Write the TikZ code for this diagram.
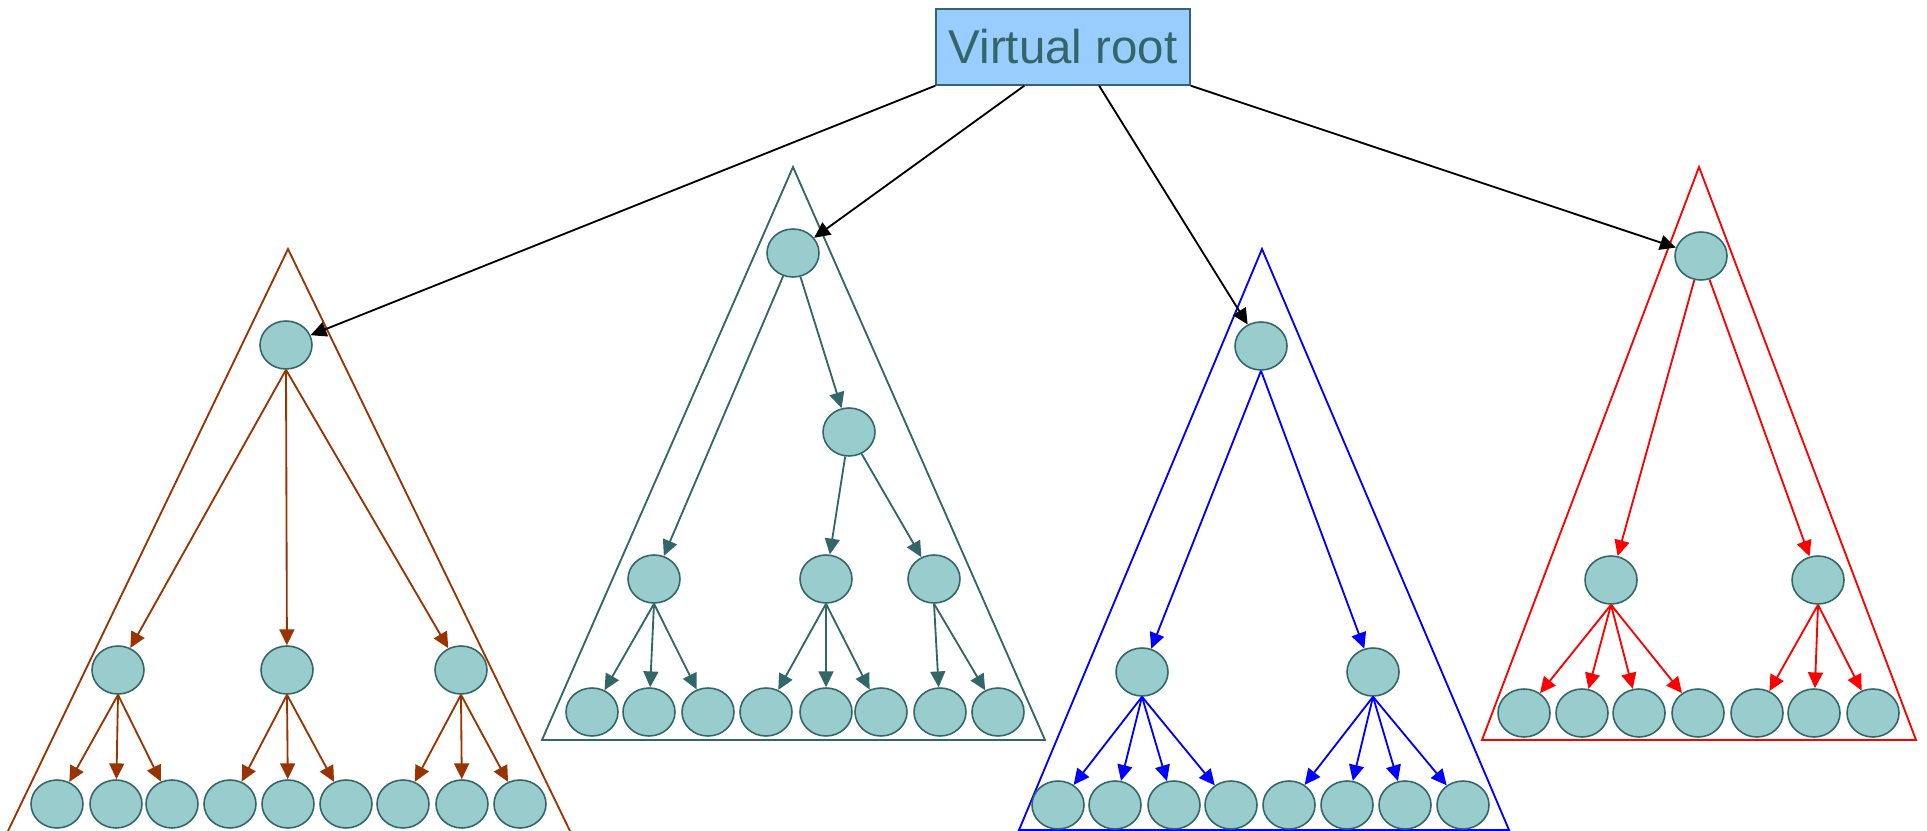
\documentclass[tikz,border=0pt]{standalone}
\usepackage{fontspec}
\newfontfamily\rootfont{Liberation Sans}
\usetikzlibrary{arrows.meta,shapes.geometric}
\definecolor{nodefill}{HTML}{99CCCC}
\definecolor{nodeline}{HTML}{336666}
\definecolor{rootfill}{HTML}{99CCFF}
\definecolor{rust}{HTML}{993300}

\begin{document}
\begin{tikzpicture}[x=0.02cm,y=-0.02cm,
  vert/.style={ellipse,draw=nodeline,fill=nodefill,line width=0.9pt,minimum width=1.04cm,minimum height=0.96cm,inner sep=0pt},
  rootbox/.style={rectangle,draw=nodeline,fill=rootfill,line width=0.8pt,minimum width=5.08cm,minimum height=1.52cm,inner sep=0pt,text=nodeline,font=\rootfont\fontsize{27}{32}\selectfont},
  link/.style={line width=1.05pt,-{Triangle[length=9pt,width=8.5pt]}},
  hull/.style={line width=1.05pt}]
\useasboundingbox (0,0) rectangle (1927,831);
\clip (0,0) rectangle (1927,831);

\draw[hull,rust] (8,831) -- (288,249) -- (570,831);
\draw[hull,nodeline] (542,740) -- (793,167) -- (1045,740) -- cycle;
\draw[hull,blue] (1019,830) -- (1262,249) -- (1509,830) -- cycle;
\draw[hull,red] (1482,740) -- (1699,167) -- (1916,740) -- cycle;

\node[rootbox] (vr) at (1063,47) {Virtual root};

\node[vert] (t1r) at (286,345) {};
\foreach \x [count=\i] in {118,287,461} \node[vert] (t1m\i) at (\x,670) {};
\foreach \x [count=\i] in {57,116,172,230,288,346,403,462,520} \node[vert] (t1l\i) at (\x,804) {};

\node[vert] (t2r) at (793,253) {};
\node[vert] (t2s) at (849,432) {};
\node[vert] (t2a) at (654,579) {};
\node[vert] (t2b) at (826,579) {};
\node[vert] (t2c) at (934,579) {};
\foreach \x [count=\i] in {592,649,708,766,826,881,940,998} \node[vert] (t2l\i) at (\x,712) {};

\node[vert] (t3r) at (1261,346) {};
\foreach \x [count=\i] in {1142,1373} \node[vert] (t3m\i) at (\x,672) {};
\foreach \x [count=\i] in {1058,1115,1174,1231,1289,1347,1405,1463} \node[vert] (t3l\i) at (\x,805) {};

\node[vert] (t4r) at (1701,256) {};
\foreach \x [count=\i] in {1611,1818} \node[vert] (t4m\i) at (\x,580) {};
\foreach \x [count=\i] in {1524,1582,1639,1698,1757,1814,1873} \node[vert] (t4l\i) at (\x,713) {};

\draw[link] (vr.south west) -- (t1r);
\draw[link] (vr.-135) -- (t2r);
\draw[link] (vr.-47) -- (t3r);
\draw[link] (vr.south east) -- (t4r);

\foreach \c in {1,2,3} \draw[link,rust] (t1r.south) -- (t1m\c);
\foreach \p/\c in {1/1,1/2,1/3,2/4,2/5,2/6,3/7,3/8,3/9} \draw[link,rust] (t1m\p.south) -- (t1l\c);

\foreach \p/\c in {r/a,r/s,s/b,s/c} \draw[link,nodeline] (t2\p) -- (t2\c);
\foreach \p/\c in {a/1,a/2,a/3,b/4,b/5,b/6,c/7,c/8} \draw[link,nodeline] (t2\p.south) -- (t2l\c);

\foreach \c in {1,2} \draw[link,blue] (t3r.south) -- (t3m\c);
\foreach \p/\c in {1/1,1/2,1/3,1/4,2/5,2/6,2/7,2/8} \draw[link,blue] (t3m\p.south) -- (t3l\c);

\foreach \c in {1,2} \draw[link,red] (t4r) -- (t4m\c);
\foreach \p/\c in {1/1,1/2,1/3,1/4,2/5,2/6,2/7} \draw[link,red] (t4m\p.south) -- (t4l\c);
\end{tikzpicture}
\end{document}
